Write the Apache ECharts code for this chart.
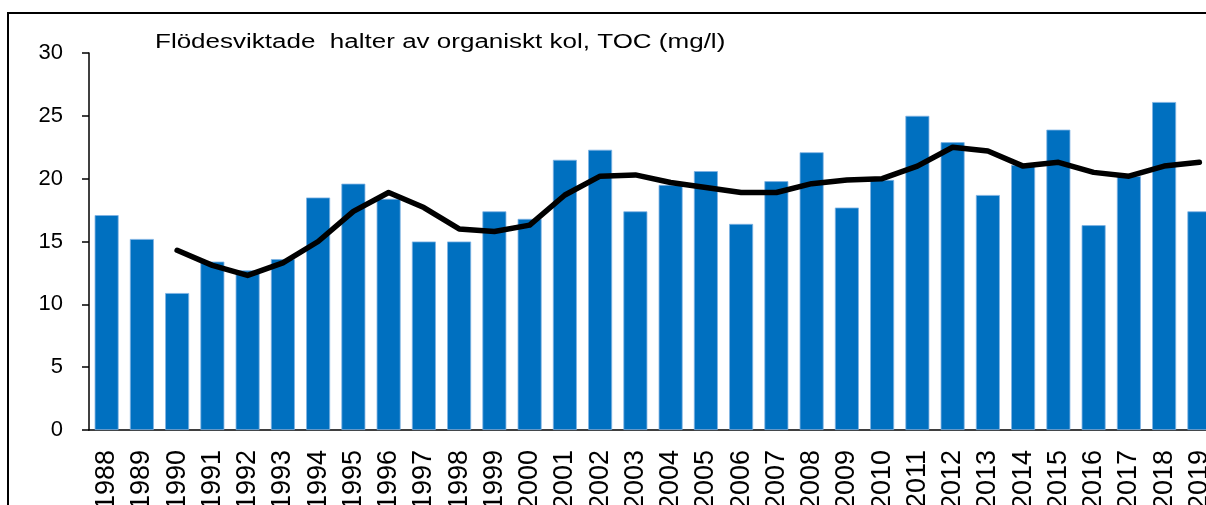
<!DOCTYPE html>
<html>
<head>
<meta charset="utf-8">
<script src="https://cdn.jsdelivr.net/npm/echarts@6/dist/echarts.min.js"></script>
<style>
  html, body { margin: 0; padding: 0; background: #fff; }
  #main { width: 1206px; height: 505px; }
</style>
</head>
<body>
<div id="main"></div>
<script>
// år
const years = ['1988', '1989', '1990', '1991', '1992', '1993', '1994', '1995', '1996', '1997',
  '1998', '1999', '2000', '2001', '2002', '2003', '2004', '2005', '2006', '2007',
  '2008', '2009', '2010', '2011', '2012', '2013', '2014', '2015', '2016', '2017',
  '2018', '2019'];

// flödesviktade halter, TOC (mg/l)
const tocValues = [17.1, 15.2, 10.9, 13.4, 12.7, 13.6, 18.5, 19.6, 18.4, 15.0,
  15.0, 17.4, 16.8, 21.5, 22.3, 17.4, 19.5, 20.6, 16.4, 19.8,
  22.1, 17.7, 19.9, 25.0, 22.9, 18.7, 21.1, 23.9, 16.3, 20.2,
  26.1, 17.4];

// glidande medelvärde, börjar 1990
const trendValues = ['-', '-', 14.3, 13.1, 12.3, 13.3, 15.0, 17.4, 18.9, 17.7,
  16.0, 15.8, 16.3, 18.7, 20.2, 20.3, 19.7, 19.3, 18.9, 18.9,
  19.6, 19.9, 20.0, 21.0, 22.5, 22.2, 21.0, 21.3, 20.5, 20.2,
  21.0, 21.3];

const yTicks = [0, 5, 10, 15, 20, 25, 30];

const titleText = 'Flödesviktade  halter av organiskt kol, TOC (mg/l)';

const font = 'Liberation Sans, Arial, sans-serif';

const chart = echarts.init(document.getElementById('main'), null, { renderer: 'canvas' });

const option = {
  animation: false,
  backgroundColor: '#fff',
  graphic: [
    {
      // ram runt diagrammet
      type: 'polyline',
      shape: { points: [[8, 520], [8, 13], [1220, 13]] },
      style: { stroke: '#000', lineWidth: 2, fill: null },
      silent: true
    },
    {
      // rubrik, lite utdragen i sidled som i originalet
      type: 'text',
      x: 155,
      y: 42,
      scaleX: 1.3,
      style: {
        text: titleText,
        font: '20px ' + font,
        fill: '#000',
        align: 'left',
        verticalAlign: 'middle'
      },
      silent: true
    }
  ],
  grid: {
    left: 89,
    top: 53,
    bottom: 75,
    width: 1128,
    outerBoundsMode: 'none'
  },
  xAxis: {
    type: 'category',
    data: years,
    boundaryGap: true,
    axisLine: { show: true, lineStyle: { color: '#000', width: 1.5 } },
    axisTick: { show: false },
    axisLabel: {
      rotate: 90,
      margin: 20,
      interval: 0,
      fontFamily: font,
      fontSize: 27,
      color: '#000'
    },
    splitLine: { show: false }
  },
  yAxis: {
    type: 'value',
    min: yTicks[0],
    max: yTicks[yTicks.length - 1],
    interval: 5,
    axisLine: { show: true, lineStyle: { color: '#000', width: 1.5 } },
    axisTick: { show: true, inside: false, length: 7, lineStyle: { color: '#000', width: 1.5 } },
    axisLabel: {
      margin: 26,
      fontFamily: font,
      fontSize: 22,
      color: '#000'
    },
    splitLine: { show: false }
  },
  series: [
    {
      name: 'TOC',
      type: 'bar',
      data: tocValues,
      barCategoryGap: '32%',
      itemStyle: {
        color: '#0070C0',
        borderColor: '#7fb3e3',
        borderWidth: 0.8
      },
      z: 2
    },
    {
      name: 'Trend',
      type: 'line',
      data: trendValues,
      symbol: 'none',
      smooth: false,
      lineStyle: { color: '#000', width: 5.5, join: 'round', cap: 'round' },
      z: 3
    }
  ]
};

chart.setOption(option);
</script>
</body>
</html>
